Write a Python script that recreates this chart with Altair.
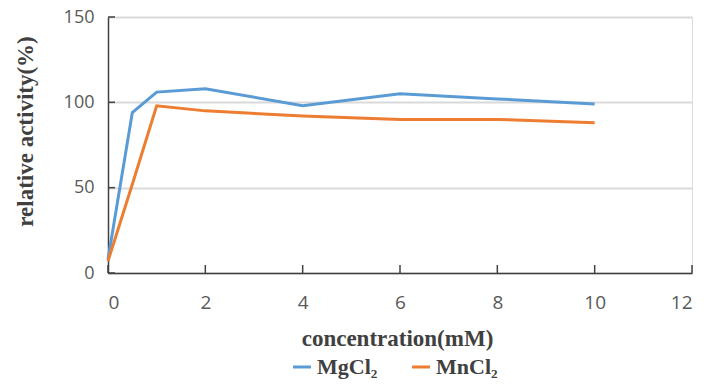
import altair as alt
import pandas as pd

conc = [0, 0.5, 1, 2, 4, 6, 8, 10]
mgcl2 = [8, 94, 106, 108, 98, 105, 102, 99]
mncl2 = [7, 52, 98, 95, 92, 90, 90, 88]
series_names = ["MgCl₂", "MnCl₂"]
series_colors = ["#5B9BD5", "#ED7D31"]
x_ticks = [0, 2, 4, 6, 8, 10, 12]
y_ticks = [0, 50, 100, 150]

rows = []
for name, vals in zip(series_names, [mgcl2, mncl2]):
    for c, v in zip(conc, vals):
        rows.append({"x": c, "y": v, "series": name})
df = pd.DataFrame(rows)

W, H = 584, 256
serif = "Liberation Serif"
sans = "Open Sans"

xscale = alt.Scale(domain=[0, 12], nice=False, zero=True)
yscale = alt.Scale(domain=[0, 150], nice=False)

xaxis = alt.Axis(
    values=x_ticks, grid=False, ticks=False, domainColor="#404040", domainWidth=1.5,
    labelFont=sans, labelFontSize=19, labelColor="#595959", labelPadding=20,
    title="concentration(mM)", titleFont=serif, titleFontSize=23, titleFontWeight="bold",
    titleColor="#404040", titleX=289, titleY=65, titleBaseline="middle", titleAnchor="middle", titleAlign="center",
)
yaxis = alt.Axis(
    values=y_ticks, grid=True, gridColor="#D9D9D9", gridWidth=2, ticks=False,
    domainColor="#404040", domainWidth=1.5,
    labelFont=sans, labelFontSize=18, labelColor="#595959", labelPadding=14,
    title="relative activity(%)", titleFont=serif, titleFontSize=23, titleFontWeight="bold",
    titleColor="#404040", titleAngle=-90, titleX=-83, titleY=114, titleAlign="center",
    titleBaseline="middle",
)

lines = alt.Chart(df).mark_line(strokeWidth=3).encode(
    x=alt.X("x:Q", scale=xscale, axis=xaxis),
    y=alt.Y("y:Q", scale=yscale, axis=yaxis),
    color=alt.Color(
        "series:N",
        scale=alt.Scale(domain=series_names, range=series_colors),
        legend=alt.Legend(
            title=None, orient="none", legendX=183, legendY=339, direction="horizontal",
            symbolType="stroke", symbolSize=324, symbolStrokeWidth=3,
            labelFont=serif, labelFontSize=22, labelFontWeight="bold", labelColor="#404040",
            labelOffset=4, columnPadding=28,
        ),
    ),
)

xt = alt.Chart(pd.DataFrame({"x": x_ticks})).mark_rule(color="#404040", strokeWidth=1.5).encode(
    x=alt.X("x:Q", scale=xscale, axis=xaxis),
    y=alt.value(H),
    y2=alt.value(H - 8),
)
yt = alt.Chart(pd.DataFrame({"y": y_ticks})).mark_rule(color="#404040", strokeWidth=1.5).encode(
    y=alt.Y("y:Q", scale=yscale, axis=yaxis),
    x=alt.value(0),
    x2=alt.value(7),
)

chart = alt.layer(lines, xt, yt).properties(
    width=W, height=H, autosize="none",
    padding={"left": 100, "top": 9, "right": 20, "bottom": 106},
).configure_view(stroke=None).configure(background="white")

chart.save("out.html", embed_options={"renderer": "svg", "actions": False})
